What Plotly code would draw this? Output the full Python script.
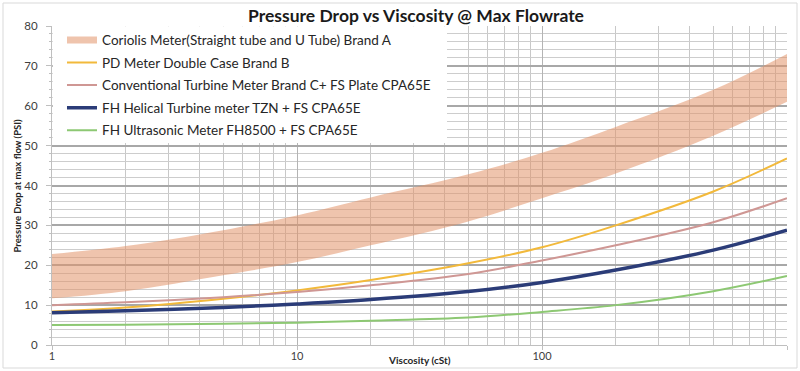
import plotly.graph_objects as go

viscosity = [1, 2, 5, 10, 20, 50, 100, 200, 500, 1000]
coriolis_low = [11.7, 13.5, 17.5, 20.8, 25.0, 31.0, 36.8, 43.0, 52.5, 61.0]
coriolis_high = [22.8, 24.8, 28.8, 32.5, 37.0, 42.8, 48.2, 54.7, 64.0, 73.0]
pd_meter = [8.4, 9.4, 11.6, 13.7, 16.3, 20.5, 24.5, 30.0, 38.5, 46.8]
conv_turbine = [10.0, 10.7, 12.0, 13.3, 15.0, 17.8, 21.2, 25.0, 30.8, 36.8]
fh_helical = [8.1, 8.6, 9.4, 10.3, 11.4, 13.4, 15.7, 18.8, 23.8, 28.8]
fh_ultrasonic = [5.0, 5.1, 5.35, 5.6, 6.1, 6.9, 8.3, 10.0, 13.5, 17.3]

names = [
    "Coriolis Meter(Straight tube and U Tube) Brand A",
    "PD Meter Double Case Brand B",
    "Conventional Turbine Meter Brand C+ FS Plate CPA65E",
    "FH Helical Turbine meter TZN + FS CPA65E",
    "FH Ultrasonic Meter FH8500 + FS CPA65E",
]
x_ticks = [1, 10, 100, 1000]
x_ticktext = ["1", "10", "100", "1000"]

BAND_FILL = "rgba(226,148,106,0.55)"
BAND_LEG = "#EFC4AD"
FONT = "Lato"

fig = go.Figure()
fig.add_trace(go.Scatter(x=viscosity, y=coriolis_low, mode="lines", line=dict(width=0, shape="spline"),
                         showlegend=False, hoverinfo="skip"))
fig.add_trace(go.Scatter(x=viscosity, y=coriolis_high, mode="lines", line=dict(width=0, shape="spline"),
                         fill="tonexty", fillcolor=BAND_FILL, showlegend=False, hoverinfo="skip"))
fig.add_trace(go.Scatter(x=[None], y=[None], mode="lines", line=dict(width=7, color=BAND_LEG), name=names[0],
                         legendgroup="a"))
series = [(pd_meter, "#F2B93B", 2, "b"), (conv_turbine, "#CF9794", 2, "c"),
          (fh_helical, "#2B3C78", 3.5, "d"), (fh_ultrasonic, "#8DC873", 2, "e")]
for (vals, col, w, g), nm in zip(series, names[1:]):
    fig.add_trace(go.Scatter(x=viscosity, y=vals, mode="lines", name=nm, legendgroup=g,
                             line=dict(color=col, width=w, shape="spline")))

L, R, T, B = 52, 13, 26, 26
W, H = 800, 371
pw, ph = W - L - R, H - T - B

# white legend backing covering gridlines
fig.add_shape(type="rect", xref="paper", yref="paper", x0=0.001, x1=(447 - L) / pw,
              y0=(H - B - 143) / ph, y1=0.999, fillcolor="white", line=dict(width=0), layer="above")
# outer chart border
fig.add_shape(type="rect", xref="paper", yref="paper", x0=(3 - L) / pw, x1=(797 - L) / pw,
              y0=(H - B - 368) / ph, y1=(H - B - 3) / ph, line=dict(color="#D9D9D9", width=1),
              fillcolor="rgba(0,0,0,0)")

fig.add_annotation(text="<b>Viscosity (cSt)</b>", xref="paper", yref="paper", x=(419 - L) / pw,
                   y=(H - B - 360) / ph, showarrow=False, font=dict(family=FONT, size=10, color="#262626"),
                   yanchor="middle", xanchor="center")
fig.add_annotation(text="<b>Pressure Drop at max flow (PSI)</b>", xref="paper", yref="paper",
                   x=(17 - L) / pw, y=0.5, showarrow=False, textangle=-90,
                   font=dict(family=FONT, size=9.5, color="#262626"), xanchor="center", yanchor="middle")

fig.update_layout(
    width=W, height=H, margin=dict(l=L, r=R, t=T, b=B, autoexpand=False),
    paper_bgcolor="white", plot_bgcolor="white",
    title=dict(text="<b>Pressure Drop vs Viscosity @ Max Flowrate</b>", x=416 / W, xref="container",
               xanchor="center", y=1 - 16 / H, yanchor="middle",
               font=dict(family=FONT, size=17.5, color="#1a1a1a")),
    font=dict(family=FONT, color="#404040"),
    legend=dict(x=0.0136, y=1.004, xanchor="left", yanchor="top", bgcolor="rgba(0,0,0,0)",
                font=dict(family=FONT, size=13.5, color="#262626"), tracegroupgap=2, itemwidth=30),
    xaxis=dict(type="log", range=[0, 3], tickvals=x_ticks, ticktext=x_ticktext, automargin=False,
               showgrid=True, gridcolor="#B4B4B4", gridwidth=1,
               minor=dict(dtick="D1", showgrid=True, gridcolor="#C8C8C8", gridwidth=1, ticks=""),
               showline=True, linecolor="#BFBFBF", ticks="outside", ticklen=4, tickcolor="#BFBFBF",
               ticklabelstandoff=-3,
               tickfont=dict(family=FONT, size=11, color="#404040"), zeroline=False),
    yaxis=dict(range=[0, 80], dtick=10, showgrid=True, gridcolor="#A8A8A8", gridwidth=1.5, automargin=False,
               minor=dict(dtick=2, showgrid=True, gridcolor="#CDCDCD", gridwidth=1, ticks="outside",
                          ticklen=2, tickcolor="#BFBFBF"),
               showline=True, linecolor="#BFBFBF", ticks="outside", ticklen=5, tickcolor="#BFBFBF",
               ticklabelstandoff=6,
               tickfont=dict(family=FONT, size=11.5, color="#404040"), zeroline=False),
)

fig.write_html("out.html", config={"displayModeBar": False},
               post_script="document.body.style.margin='0';document.body.style.overflow='hidden';")
